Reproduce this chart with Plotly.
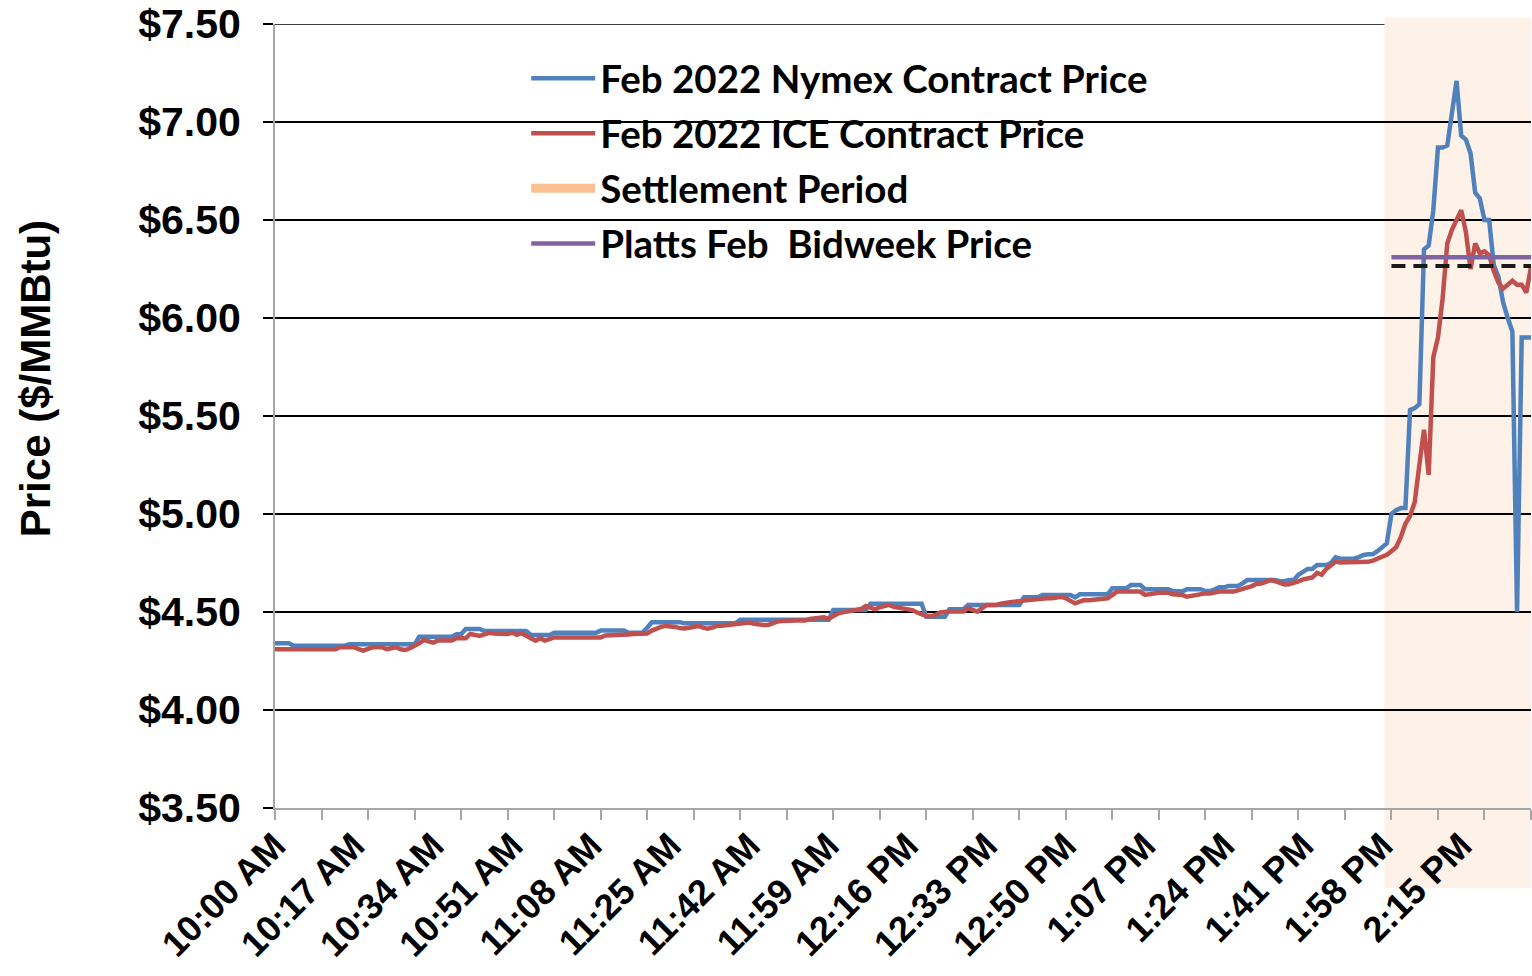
import plotly.graph_objects as go

# ---- data (minute-by-minute, 10:00 AM .. 2:30 PM) ----
nymex = [
    4.340,4.340,4.340,4.340,4.328,4.328,4.328,4.328,4.328,4.328,
    4.328,4.328,4.328,4.328,4.328,4.328,4.335,4.335,4.335,4.335,
    4.335,4.335,4.335,4.335,4.335,4.335,4.335,4.335,4.335,4.335,
    4.335,4.374,4.374,4.374,4.374,4.374,4.374,4.374,4.374,4.386,
    4.386,4.413,4.413,4.413,4.413,4.403,4.403,4.403,4.403,4.403,
    4.403,4.403,4.403,4.403,4.403,4.383,4.383,4.383,4.383,4.383,
    4.394,4.394,4.394,4.394,4.394,4.394,4.394,4.394,4.394,4.394,
    4.405,4.405,4.405,4.405,4.405,4.405,4.394,4.394,4.394,4.394,
    4.420,4.448,4.448,4.448,4.448,4.448,4.448,4.448,4.442,4.442,
    4.442,4.442,4.442,4.442,4.442,4.442,4.442,4.442,4.442,4.442,
    4.460,4.460,4.460,4.460,4.460,4.460,4.460,4.460,4.460,4.460,
    4.460,4.460,4.460,4.460,4.460,4.460,4.460,4.460,4.460,4.460,
    4.510,4.510,4.510,4.510,4.510,4.510,4.510,4.510,4.542,4.542,
    4.542,4.542,4.542,4.542,4.542,4.542,4.542,4.542,4.542,4.542,
    4.476,4.476,4.476,4.476,4.476,4.514,4.514,4.514,4.514,4.536,
    4.536,4.536,4.536,4.536,4.536,4.536,4.536,4.536,4.536,4.536,
    4.536,4.575,4.575,4.575,4.575,4.587,4.587,4.587,4.587,4.587,
    4.587,4.587,4.575,4.590,4.590,4.590,4.590,4.590,4.590,4.590,
    4.621,4.621,4.621,4.621,4.638,4.638,4.638,4.616,4.616,4.616,
    4.616,4.616,4.616,4.607,4.604,4.604,4.616,4.616,4.616,4.616,
    4.607,4.607,4.616,4.626,4.626,4.633,4.633,4.633,4.646,4.663,
    4.663,4.663,4.663,4.663,4.663,4.663,4.657,4.657,4.663,4.663,
    4.690,4.706,4.720,4.720,4.740,4.740,4.740,4.750,4.779,4.772,
    4.772,4.772,4.772,4.780,4.791,4.795,4.795,4.810,4.830,4.850,
    5.000,5.020,5.030,5.030,5.530,5.540,5.560,6.350,6.370,6.550,
    6.870,6.870,6.880,7.050,7.210,6.930,6.910,6.840,6.640,6.610,
    6.500,6.500,6.270,6.210,6.080,6.000,5.930,4.500,5.900,5.900,
    5.900,
]

ice = [
    4.310,4.310,4.310,4.310,4.310,4.310,4.310,4.310,4.310,4.310,
    4.310,4.310,4.310,4.310,4.320,4.320,4.320,4.320,4.310,4.303,
    4.312,4.320,4.320,4.320,4.310,4.315,4.320,4.310,4.306,4.315,
    4.325,4.340,4.357,4.350,4.344,4.354,4.354,4.354,4.354,4.366,
    4.366,4.366,4.388,4.383,4.378,4.386,4.394,4.390,4.388,4.388,
    4.388,4.394,4.383,4.392,4.380,4.365,4.354,4.366,4.354,4.362,
    4.370,4.370,4.370,4.370,4.370,4.370,4.370,4.370,4.370,4.370,
    4.370,4.380,4.380,4.380,4.380,4.380,4.385,4.388,4.390,4.390,
    4.390,4.405,4.416,4.424,4.429,4.429,4.424,4.418,4.416,4.420,
    4.426,4.429,4.420,4.415,4.420,4.429,4.430,4.432,4.434,4.438,
    4.442,4.440,4.446,4.440,4.436,4.434,4.434,4.445,4.451,4.454,
    4.456,4.456,4.456,4.456,4.456,4.465,4.468,4.471,4.473,4.465,
    4.482,4.492,4.498,4.502,4.504,4.506,4.515,4.531,4.522,4.514,
    4.524,4.530,4.536,4.526,4.522,4.522,4.518,4.510,4.498,4.486,
    4.480,4.479,4.485,4.498,4.502,4.502,4.502,4.502,4.502,4.519,
    4.512,4.502,4.520,4.536,4.536,4.536,4.542,4.548,4.550,4.553,
    4.553,4.558,4.561,4.564,4.567,4.568,4.570,4.570,4.575,4.578,
    4.570,4.556,4.544,4.553,4.561,4.560,4.564,4.566,4.568,4.570,
    4.590,4.604,4.604,4.604,4.604,4.604,4.604,4.587,4.592,4.598,
    4.598,4.598,4.598,4.590,4.587,4.587,4.578,4.583,4.587,4.592,
    4.595,4.595,4.600,4.604,4.604,4.604,4.604,4.610,4.616,4.621,
    4.632,4.643,4.645,4.654,4.663,4.657,4.646,4.640,4.642,4.648,
    4.656,4.666,4.672,4.676,4.700,4.690,4.720,4.740,4.757,4.752,
    4.752,4.752,4.752,4.752,4.752,4.756,4.762,4.770,4.780,4.792,
    4.810,4.830,4.880,4.950,4.990,5.060,5.250,5.430,5.200,5.800,
    5.900,6.100,6.380,6.450,6.500,6.550,6.440,6.250,6.380,6.330,
    6.340,6.320,6.240,6.180,6.150,6.170,6.190,6.170,6.170,6.130,
    6.260,
]

minutes = list(range(len(nymex)))          # minutes after 10:00 AM

tick_labels = ["10:00 AM", "10:17 AM", "10:34 AM", "10:51 AM", "11:08 AM",
               "11:25 AM", "11:42 AM", "11:59 AM", "12:16 PM", "12:33 PM",
               "12:50 PM", "1:07 PM", "1:24 PM", "1:41 PM", "1:58 PM", "2:15 PM"]
tick_minutes = [0, 17, 34, 51, 68, 85, 102, 119, 136, 153, 170, 187, 204, 221, 238, 255]

settlement_minutes = list(range(240, 271))   # 2:00 PM .. 2:30 PM
platts_bidweek = 6.31
final_settle = 6.265

y_min, y_max = 3.5, 7.5

assert len(nymex) == len(ice) == 271

BLUE = "#4F81BD"
RED = "#C0504D"
PEACH = "#FAC090"
PURPLE = "#8064A2"
ARIAL = "Liberation Sans"

fig = go.Figure()
fig.add_trace(go.Scatter(x=minutes, y=nymex, mode="lines", name="Feb 2022 Nymex Contract Price",
                         line=dict(color=BLUE, width=4.5), legendgroup="a"))
fig.add_trace(go.Scatter(x=minutes, y=ice, mode="lines", name="Feb 2022 ICE Contract Price",
                         line=dict(color=RED, width=4.5), legendgroup="b"))
fig.add_trace(go.Scatter(x=[None], y=[None], mode="lines", name="Settlement Period",
                         line=dict(color=PEACH, width=9), legendgroup="c"))
fig.add_trace(go.Scatter(x=settlement_minutes, y=[platts_bidweek] * len(settlement_minutes),
                         mode="lines", name="Platts Feb  Bidweek Price",
                         line=dict(color=PURPLE, width=4.5), legendgroup="d"))
fig.add_trace(go.Scatter(x=settlement_minutes, y=[final_settle] * len(settlement_minutes),
                         mode="lines", showlegend=False, legendgroup="e",
                         line=dict(color="#1a1a1a", width=4, dash="14px,8px")))

# top gridline ($7.50), drawn beneath the settlement shading
fig.add_shape(type="line", xref="paper", yref="y", x0=0, x1=1, y0=y_max, y1=y_max,
              line=dict(color="#000000", width=1.5), layer="below")
fig.add_shape(type="rect", xref="x", yref="paper",
              x0=settlement_minutes[0] - 1.5, x1=settlement_minutes[-1] + 0.5,
              y0=-0.102, y1=1.008, fillcolor="#FDF1E8", line=dict(width=0), layer="below")

fig.add_annotation(text="Price ($/MMBtu)", textangle=-90, xref="paper", yref="paper",
                   x=-0.191, y=0.547, xanchor="center", yanchor="middle", showarrow=False,
                   font=dict(family=ARIAL, size=42, color="black", weight="bold"))

fig.update_layout(
    width=1532, height=976,
    margin=dict(l=275, r=1, t=24, b=168),
    paper_bgcolor="white", plot_bgcolor="white",
    showlegend=True,
    legend=dict(x=0.2, y=0.971, xanchor="left", yanchor="top",
                bgcolor="rgba(0,0,0,0)", font=dict(family="Lato", size=38.5, color="black", weight="bold"),
                itemwidth=64, tracegroupgap=2, traceorder="grouped"),
)

fig.update_xaxes(
    range=[0, 270], tickmode="array", tickvals=tick_minutes, ticktext=tick_labels,
    tickangle=-45, ticks="", showgrid=False, zeroline=False,
    showline=True, linecolor="#A6A6A6", linewidth=2,
    tickfont=dict(family=ARIAL, size=36, color="black", weight="bold"),
    minor=dict(tickmode="array", tickvals=list(range(0, 271, 10)), ticks="outside",
               ticklen=10, tickcolor="#A6A6A6", tickwidth=2, showgrid=False),
)
fig.update_yaxes(
    range=[y_min, y_max], tick0=3.5, dtick=0.5, tickprefix="$", tickformat=".2f",
    showgrid=True, gridcolor="#000000", gridwidth=1.5, zeroline=False,
    showline=True, linecolor="#A6A6A6", linewidth=2,
    ticks="outside", ticklen=10, tickcolor="#000000", tickwidth=1.5,
    ticklabelstandoff=14,
    tickfont=dict(family=ARIAL, size=41, color="black", weight="bold"),
)

fig.write_html("out.html", config={"displayModeBar": False},
               post_script="document.body.style.margin='0px';")
